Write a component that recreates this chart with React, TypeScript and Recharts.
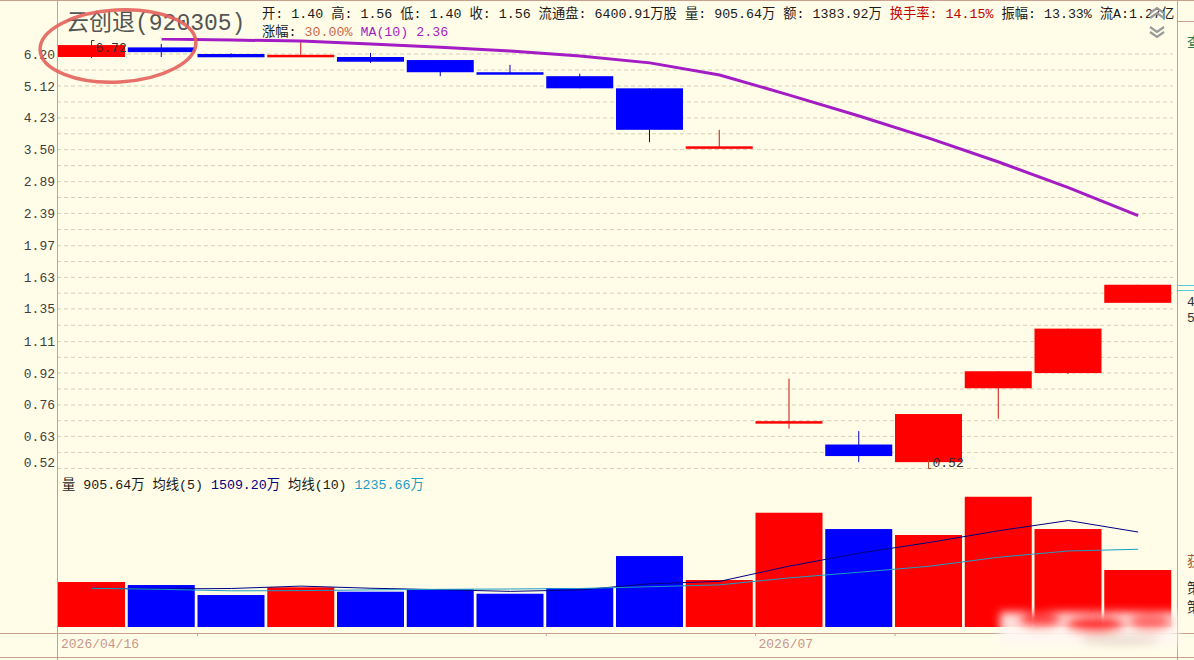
import React from 'react';
import { Bar, CartesianGrid, ComposedChart, Line, XAxis, YAxis } from 'recharts';

// weekly bars, values
const dates = ['2026/04/16', '', '', '', '', '', '', '', '', '', '2026/07', '', '', '', '', ''];
const openP = [6.09, 6.45, 6.20, 6.09, 6.09, 5.98, 5.56, 5.43, 5.05, 3.56, 0.68, 0.60, 0.54, 0.84, 0.92, 1.40];
const highP = [6.72, 6.58, 6.23, 6.66, 6.24, 5.98, 5.81, 5.51, 5.05, 3.94, 0.89, 0.65, 0.72, 0.93, 1.20, 1.56];
const lowP = [6.05, 6.09, 6.08, 6.09, 5.88, 5.43, 5.50, 5.05, 3.66, 3.56, 0.66, 0.54, 0.52, 0.70, 0.915, 1.40];
const closeP = [6.54, 6.27, 6.08, 6.17, 5.92, 5.56, 5.50, 5.05, 3.94, 3.57, 0.69, 0.56, 0.72, 0.93, 1.20, 1.56];
const ma10P = [null, 6.78, 6.74, 6.70, 6.58, 6.46, 6.31, 6.13, 5.88, 5.47, 4.85, 4.28, 3.75, 3.25, 2.79, 2.36];

// volume in 万
const volume = [715, 667, 508, 631, 561, 599, 529, 620, 1128, 747, 1816, 1557, 1462, 2070, 1557, 905.64];
const volMa5 = [615, 604, 612, 650, 616, 593, 566, 590, 687, 725, 968, 1174, 1342, 1530, 1692, 1509.2];
const volMa10 = [615, 599, 575, 578, 590, 599, 604, 612, 640, 670, 781, 870, 965, 1109, 1208, 1235.66];

const priceTicks = [0.52, 0.63, 0.76, 0.92, 1.11, 1.35, 1.63, 1.97, 2.39, 2.89, 3.5, 4.23, 5.12, 6.2];
const monthMarks = [2, 7, 10, 12];

const BG = '#fffde8';
const LINE = '#c9a08e';
const RED = '#ff0000';
const BLUE = '#0000ff';
const MONO = "'Liberation Mono', 'Noto Sans CJK SC', monospace";

const priceData = dates.map((d, i) => ({
  i,
  d,
  range: [lowP[i], highP[i]],
  open: openP[i],
  close: closeP[i],
  high: highP[i],
  low: lowP[i],
  ma: ma10P[i],
}));

const volData = dates.map((d, i) => ({
  i,
  d,
  vol: volume[i],
  ma5: volMa5[i],
  ma10: volMa10[i],
  up: closeP[i] >= openP[i],
}));

// dashed grid: every tick plus the log-midpoint between ticks
const gridValues: number[] = [];
priceTicks.forEach((t, k) => {
  gridValues.push(t);
  if (k < priceTicks.length - 1) gridValues.push(Math.sqrt(t * priceTicks[k + 1]));
});

const maxIdx = highP.indexOf(Math.max(...highP));
const minIdx = lowP.indexOf(Math.min(...lowP));

const Candle = (props: any) => {
  const { x, y, width, height, payload, index } = props;
  const top = Math.min(y, y + height);
  const h = Math.abs(height);
  const lh = Math.log(payload.high);
  const ll = Math.log(payload.low);
  const py = (v: number) => (lh === ll ? top : top + ((lh - Math.log(v)) / (lh - ll)) * h);
  const up = payload.close >= payload.open;
  const color = up ? RED : BLUE;
  const wick = up ? '#d01010' : '#0000c0';
  const bTop = py(Math.max(payload.open, payload.close));
  let bBot = py(Math.min(payload.open, payload.close));
  if (bBot - bTop < 2.5) bBot = bTop + 2.5;
  const cx = x + width / 2;
  return (
    <g>
      <line x1={cx} x2={cx} y1={top} y2={top + h} stroke={wick} strokeWidth={1} />
      <rect x={x} y={bTop} width={width} height={bBot - bTop} fill={color} />
      {index === maxIdx && (
        <g>
          <polyline points={`${cx + 3},${top} ${cx},${top} ${cx},${top + 7}`} fill="none" stroke="#404040" strokeWidth={1} />
          <text x={cx + 4} y={top + 11} fontSize={13} fontFamily={MONO} fill="#303030">
            {payload.high.toFixed(2)}
          </text>
        </g>
      )}
      {index === minIdx && (
        <g>
          <polyline points={`${cx},${top + h - 8} ${cx},${top + h} ${cx + 3},${top + h}`} fill="none" stroke="#c05030" strokeWidth={1} />
          <text x={cx + 4} y={top + h - 1} fontSize={13} fontFamily={MONO} fill="#303030">
            {payload.low.toFixed(2)}
          </text>
        </g>
      )}
    </g>
  );
};

const VolBar = (props: any) => {
  const { x, y, width, height, payload } = props;
  return <rect x={x} y={y} width={width} height={height} fill={payload.up ? RED : BLUE} />;
};

const PriceTick = (p: any) => {
  const v = p.payload.value;
  const dy = v === priceTicks[0] ? -1.5 : 4.5;
  return (
    <text x={55} y={p.y + dy} textAnchor="end" fontSize={13} fontFamily={MONO} fill="#404040">
      {v.toFixed(2)}
    </text>
  );
};

const DateTick = (p: any) => {
  const idx = p.payload.value;
  const left = p.x - 34.875;
  const label = dates[idx];
  return (
    <g>
      {monthMarks.includes(idx) && <line x1={left + 1} x2={left + 1} y1={p.y + 6} y2={p.y + 9} stroke={LINE} />}
      {label && (
        <text x={left + 4} y={p.y + 21} fontSize={13} fontFamily={MONO} fill="#c8968a">
          {label}
        </text>
      )}
    </g>
  );
};

export default function App() {
  return (
    <div
      style={{
        position: 'fixed',
        left: 0,
        top: 0,
        width: 1194,
        height: 660,
        background: BG,
        overflow: 'hidden',
        fontFamily: MONO,
      }}
    >
      <div style={{ position: 'absolute', left: 0, top: 0 }}>
        <ComposedChart width={1194} height={480} data={priceData} margin={{ top: 38, right: 21, bottom: 10, left: 0 }}>
          <CartesianGrid vertical={false} horizontalValues={gridValues} stroke="#d9ceb2" strokeDasharray="4 3" />
          <XAxis dataKey="i" type="category" hide />
          <YAxis
            type="number"
            scale="log"
            domain={[0.5152, 6.823]}
            allowDataOverflow
            ticks={priceTicks}
            interval={0}
            width={57}
            axisLine={false}
            tickLine={false}
            tick={<PriceTick />}
          />
          <Bar dataKey="range" barSize={67} shape={<Candle />} isAnimationActive={false} />
          <Line dataKey="ma" type="linear" stroke="#a41cc4" strokeWidth={3} dot={false} isAnimationActive={false} />
        </ComposedChart>
      </div>

      <div style={{ position: 'absolute', left: 0, top: 470 }}>
        <ComposedChart width={1194} height={190} data={volData} margin={{ top: 6, right: 21, bottom: 0, left: 0 }}>
          <XAxis
            dataKey="i"
            type="category"
            height={33}
            axisLine={false}
            tickLine={false}
            tickSize={0}
            tickMargin={0}
            interval={0}
            tick={<DateTick />}
          />
          <YAxis type="number" domain={[0, 2400]} width={57} axisLine={false} tickLine={false} tick={false} />
          <Bar dataKey="vol" barSize={67} shape={<VolBar />} isAnimationActive={false} />
          <Line dataKey="ma5" type="linear" stroke="#000080" strokeWidth={1} dot={false} isAnimationActive={false} />
          <Line dataKey="ma10" type="linear" stroke="#1c9cc4" strokeWidth={1} dot={false} isAnimationActive={false} />
        </ComposedChart>
      </div>

      <svg width={1194} height={660} style={{ position: 'absolute', left: 0, top: 0, pointerEvents: 'none' }}>
        <defs>
          <filter id="smear" x="-20%" y="-50%" width="140%" height="200%">
            <feGaussianBlur stdDeviation="4" />
          </filter>
        </defs>
        {/* frame lines */}
        <line x1={0} x2={1194} y1={0.5} y2={0.5} stroke={LINE} />
        <line x1={57.5} x2={57.5} y1={0} y2={660} stroke={LINE} />
        <line x1={1177.5} x2={1177.5} y1={0} y2={660} stroke={LINE} />
        <line x1={0} x2={1194} y1={633.5} y2={633.5} stroke={LINE} />
        <line x1={0} x2={1194} y1={657.5} y2={657.5} stroke={LINE} />
        <line x1={1177} x2={1194} y1={21.5} y2={21.5} stroke={LINE} />
        <line x1={1177} x2={1194} y1={285.5} y2={285.5} stroke="#5cc8d8" />
        <line x1={1177} x2={1194} y1={290.5} y2={290.5} stroke="#5cc8d8" />

        {/* title and quote header */}
        <text x={66} y={30} fontSize={23} fontFamily={MONO} fill="#555555">
          云创退(920305)
        </text>
        <text x={262} y={18} fontSize={13.3} fontFamily={MONO} fill="#1a1a1a">
          <tspan>开: 1.40 高: 1.56 低: 1.40 收: 1.56 流通盘: 6400.91万股 量: 905.64万 额: 1383.92万 </tspan>
          <tspan fill="#c00000">换手率: 14.15%</tspan>
          <tspan> 振幅: 13.33% 流A:1.27亿</tspan>
        </text>
        <text x={262} y={36} fontSize={13.3} fontFamily={MONO} fill="#1a1a1a">
          <tspan>涨幅: </tspan>
          <tspan fill="#c86a4c">30.00%</tspan>
          <tspan fill="#a41cc4"> MA(10) 2.36</tspan>
        </text>

        {/* scroll chevrons */}
        <g fill="none" stroke="#9a9a9a" strokeWidth={2.2}>
          <polyline points="1150,13 1157,8 1164,13" />
          <polyline points="1150,18 1157,13 1164,18" />
          <polyline points="1150,27 1157,32 1164,27" />
          <polyline points="1150,32 1157,37 1164,32" />
        </g>

        {/* volume header */}
        <text x={62} y={489} fontSize={13.3} fontFamily={MONO} fill="#1a1a1a">
          <tspan>量 905.64万 均线(5) </tspan>
          <tspan fill="#000080">1509.20万</tspan>
          <tspan> 均线(10) </tspan>
          <tspan fill="#1c9cc4">1235.66万</tspan>
        </text>

        {/* clipped side panel text */}
        <text x={1187} y={47} fontSize={14} fill="#2a7a4a" fontFamily={MONO}>查</text>
        <text x={1187} y={306} fontSize={13} fill="#303030" fontFamily={MONO}>4</text>
        <text x={1187} y={322} fontSize={13} fill="#303030" fontFamily={MONO}>5</text>
        <text x={1187} y={566} fontSize={14} fill="#a06040" fontFamily={MONO}>获</text>
        <text x={1187} y={593} fontSize={14} fill="#303030" fontFamily={MONO}>策</text>
        <text x={1187} y={612} fontSize={14} fill="#303030" fontFamily={MONO}>策</text>

        {/* hand-drawn circle annotation */}
        <ellipse cx={118} cy={46} rx={78} ry={36} transform="rotate(-3 118 46)" fill="none" stroke="#e4625c" strokeWidth={3.5} opacity={0.9} />

        {/* blurred watermark */}
        <g filter="url(#smear)">
          <rect x={1000} y={612} width={178} height={34} fill="#fff6f2" opacity={0.9} />
          <ellipse cx={1040} cy={620} rx={22} ry={8} fill="#ff2020" opacity={0.8} />
          <ellipse cx={1095} cy={624} rx={30} ry={9} fill="#ff1a1a" opacity={0.85} />
          <ellipse cx={1150} cy={622} rx={22} ry={8} fill="#ff3030" opacity={0.7} />
          <ellipse cx={1120} cy={640} rx={40} ry={6} fill="#e8d8cc" opacity={0.8} />
        </g>
      </svg>
    </div>
  );
}
